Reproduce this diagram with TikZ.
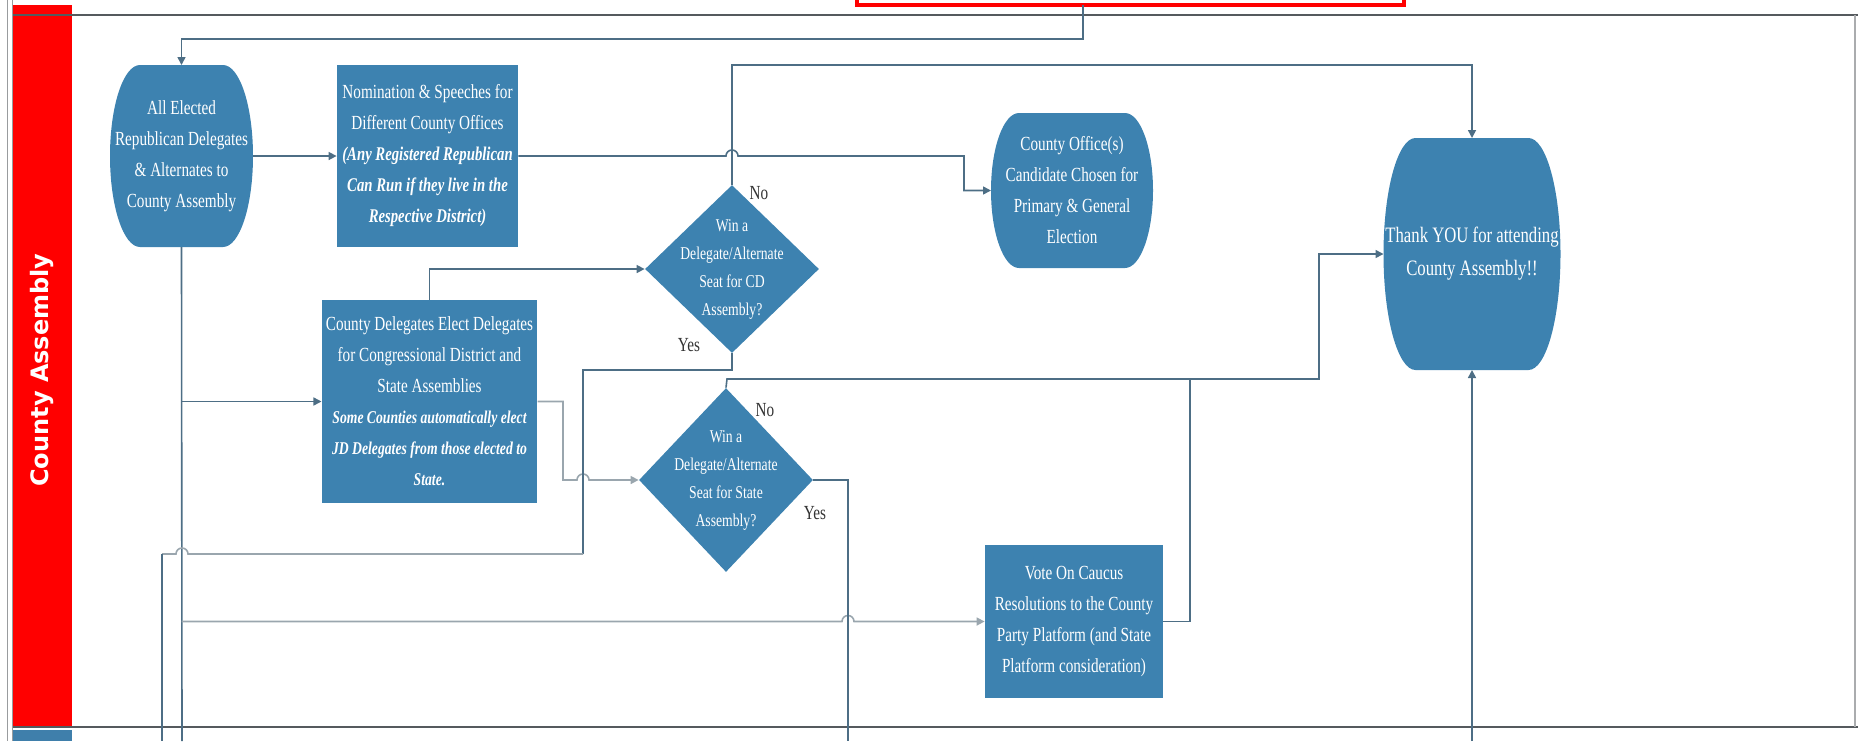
\documentclass[tikz,border=0pt]{standalone}
\usepackage{fontspec}
\newfontfamily\condserif[FakeStretch=0.76]{Liberation Serif}
\newfontfamily\lanefont{DejaVu Sans}
\usetikzlibrary{shapes.geometric,arrows.meta,backgrounds}

\definecolor{boxblue}{HTML}{3D82B0}
\definecolor{linkblue}{HTML}{4D6E85}
\definecolor{linkgray}{HTML}{9AA6AE}
\definecolor{lanegray}{HTML}{555A5E}
\definecolor{laneblue}{HTML}{3F7FAB}

\newcommand{\emline}[2][9.7]{{\fontsize{#1}{15.5}\selectfont\bfseries\itshape #2}}
% filled outline with elliptic ends behind a terminal node: node, end width, half height
\newcommand{\capsule}[3]{\fill[boxblue] ([xshift=#2]#1.north west) -- ([xshift=-#2]#1.north east)
	arc[start angle=90, end angle=-90, x radius=#2, y radius=#3] -- ([xshift=#2]#1.south west)
	arc[start angle=270, end angle=90, x radius=#2, y radius=#3] -- cycle;}

\tikzset{
	process/.style={rectangle, fill=boxblue, text=white, align=center, inner sep=2pt,
		font=\condserif\fontsize{10}{15.5}\selectfont},
	terminal/.style={rectangle, text=white, align=center, inner sep=0pt, outer sep=0pt,
		font=\condserif\fontsize{10}{15.5}\selectfont},
	decision/.style={diamond, fill=boxblue, inner sep=0pt},
	dectext/.style={text=white, align=center, font=\condserif\fontsize{9}{14}\selectfont},
	answer/.style={text=black!80, font=\condserif\fontsize{10}{12}\selectfont},
	wire/.style={draw=linkblue, line width=0.8pt},
	link/.style={wire, -{Triangle[length=4pt,width=4pt]}},
}

\begin{document}
\begin{tikzpicture}[x=0.5pt, y=-0.5pt]
	\useasboundingbox (0,0) rectangle (1858,741);
	\clip (0,0) rectangle (1858,741);
	% swimlane
	\fill[red] (13,5) rectangle (72,726);
	\fill[laneblue] (13,730) rectangle (72,741);
	\draw[lanegray!60, line width=0.5pt] (7,0) -- (7,741) (12,0) -- (12,741);
	\draw[lanegray, line width=1.2pt] (13,15) -- (1858,15) (13,727) -- (1858,727);
	\draw[lanegray!50, line width=0.6pt] (1855,15) -- (1855,727);
	\node[rotate=90, text=white, font=\lanefont\bfseries\fontsize{12}{14}\selectfont] (lane) at (42,370) {County Assembly};
	% box above, cut off by the page
	\draw[red, line width=1.8pt] (857,-10) -- (857,5) -- (1404,5) -- (1404,-10);
	\coordinate (start) at (1083,5);

	% steps
	\node[terminal, minimum width=71.5pt, minimum height=91pt] (elected) at (181.5,156) {All Elected\\Republican Delegates\\\& Alternates to\\County Assembly};
	\node[process, minimum width=90.5pt, minimum height=91pt] (nomination) at (427.5,156) {Nomination \& Speeches for\\Different County Offices\\\emline{(Any Registered Republican}\\\emline{Can Run if they live in the}\\\emline{Respective District)}};
	\node[terminal, minimum width=81pt, minimum height=77.5pt] (office) at (1072,190.5) {County Office(s)\\Candidate Chosen for\\Primary \& General\\Election};
	\node[terminal, minimum width=88.5pt, minimum height=116pt, font=\condserif\fontsize{11}{16.5}\selectfont] (thanks) at (1472,254) {Thank YOU for attending\\County Assembly!!};
	\node[decision, minimum width=87pt, minimum height=84pt, label={[dectext]center:{Win a\\Delegate/Alternate\\Seat for CD\\Assembly?}}] (cd) at (732,269) {};
	\node[decision, minimum width=87pt, minimum height=92pt, label={[dectext]center:{Win a\\Delegate/Alternate\\Seat for State\\Assembly?}}] (state) at (726,480) {};
	\node[process, minimum width=106.5pt, minimum height=101.5pt] (delegates) at (429.5,401.5) {County Delegates Elect Delegates\\for Congressional District and\\State Assemblies\\\emline[9]{Some Counties automatically elect}\\\emline[9]{JD Delegates from those elected to}\\\emline[9]{State.}};
	\node[process, minimum width=89pt, minimum height=76.5pt] (vote) at (1074,621.5) {Vote On Caucus\\Resolutions to the County\\Party Platform (and State\\Platform consideration)};

	\begin{pgfonlayer}{background}
		\capsule{elected}{15pt}{45.5pt}
		\capsule{office}{14pt}{38.75pt}
		\capsule{thanks}{16pt}{58pt}
	\end{pgfonlayer}

	\node[answer] (cdno) at (759,193) {No};
	\node[answer] (cdyes) at (689,345) {Yes};
	\node[answer] (stateno) at (765,410) {No};
	\node[answer] (stateyes) at (815,513) {Yes};

	% lines leaving the lane
	\coordinate (trunkend) at (182,741);
	\coordinate (yesend) at (162,741);
	\coordinate (stateend) at (848,741);
	\coordinate (thanksin) at (1472,741);

	% connectors
	\draw[link] (start) -- (1083,39) -| (elected.north);
	\draw[link] (elected.east) -- (nomination.west);
	\draw[link] (nomination.east) -- (726,156) arc[start angle=180, end angle=0, radius=3pt] -- (964,156) |- (office.west);
	\draw[link] (cd.north) -- (732,65) -| (thanks.north);
	\draw[wire] (elected.south) -- (trunkend);
	\draw[link] (elected.south |- delegates.west) -- (delegates.west);
	\draw[link, draw=linkgray] (elected.south |- vote.west) -- (842,621.5) arc[start angle=180, end angle=0, radius=3pt] -- (vote.west);
	\draw[link] (delegates.north) |- (cd.west);
	\draw[link, draw=linkgray] (delegates.east) -- (563,401.5) |- (577,480) arc[start angle=180, end angle=0, radius=3pt] -- (state.west);
	\draw[wire] (cd.south) -- (732,370) -| (583,554);
	\draw[wire, draw=linkgray] (583,554) -- (188,554) arc[start angle=0, end angle=180, radius=3pt] -- (162,554);
	\draw[wire] (162,554) -- (yesend);
	\draw[link] (state.north) -- (727,379) -| (1319,254) -- (thanks.west);
	\draw[wire] (vote.east) -- (1190,621.5) -- (1190,379);
	\draw[wire] (state.east) -- (848,480) -- (stateend);
	\draw[link] (thanksin) -- (thanks.south);
\end{tikzpicture}
\end{document}
